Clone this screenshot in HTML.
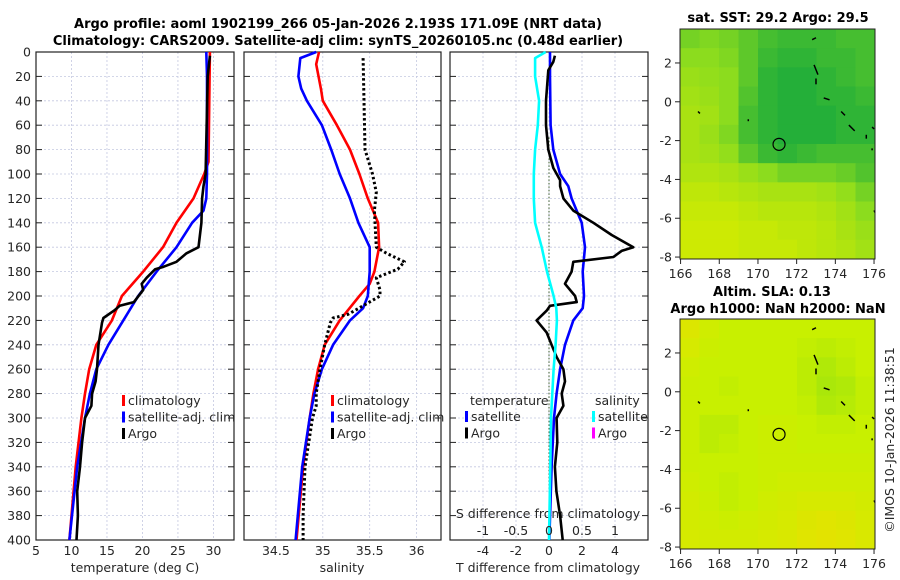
<!DOCTYPE html>
<html><head><meta charset="utf-8">
<style>
html,body{margin:0;padding:0;background:#fff;}
svg{display:block;font-family:"DejaVu Sans","Liberation Sans",sans-serif;}
.t{font-size:12.5px;fill:#262626;}
.b{font-size:13px;font-weight:bold;fill:#000;}
</style></head>
<body>
<svg id="fig" width="900" height="580" viewBox="0 0 900 580">
<text class="b" x="338" y="28" text-anchor="middle">Argo profile: aoml 1902199_266 05-Jan-2026 2.193S 171.09E (NRT data)</text>
<text class="b" x="338" y="45" text-anchor="middle">Climatology: CARS2009. Satellite-adj clim: synTS_20260105.nc (0.48d earlier)</text>
<text class="b" x="778" y="22" text-anchor="middle">sat. SST: 29.2 Argo: 29.5</text>
<text class="b" x="772" y="296" text-anchor="middle">Altim. SLA: 0.13</text>
<text class="b" x="778" y="313" text-anchor="middle">Argo h1000: NaN h2000: NaN</text>
<text class="t" transform="translate(894,440) rotate(-90)" text-anchor="middle">©IMOS 10-Jan-2026 11:38:51</text>
</svg>
<script>
// ---- data ----
const depthTicks=[0,20,40,60,80,100,120,140,160,180,200,220,240,260,280,300,320,340,360,380,400];
const tempTicks=[5,10,15,20,25,30];
const salTicks=[34.5,35,35.5,36];
const tdiffTicks=[-4,-2,0,2,4];
const sdiffTicks=[-1,-0.5,0,0.5,1];
const sdiffTickLabels=["-1","-0.5","0","0.5","1"];
const tClimD=[0,90,100,120,140,160,180,200,220,240,260,280,300,340,400];
const tClimV=[29.5,29.3,28.7,27.2,24.8,22.9,20.1,17.1,15.7,13.5,12.5,11.9,11.4,10.6,9.7];
const tSatD=[0,20,100,120,130,140,160,180,200,220,240,260,280,300,340,400];
const tSatV=[29.0,29.1,29.1,29.0,28.6,27.0,24.8,22.0,19.4,17.3,15.2,13.5,12.6,11.9,10.8,9.7];
const tArgoD=[3,20,100,110,120,140,160,165,172,176,178,185,190,195,205,208,212,218,222,240,260,270,280,290,300,320,340,360,380,400];
const tArgoV=[29.5,29.2,28.9,28.6,28.4,28.3,27.9,26.2,24.8,23.0,21.8,20.6,19.9,20.1,18.8,16.8,16.0,14.5,14.3,13.8,13.6,13.4,12.9,12.8,11.9,11.5,11.2,10.8,10.9,10.7];
const sClimD=[0,10,30,40,60,80,100,120,140,160,180,190,200,220,240,260,280,300,340,400];
const sClimV=[34.96,34.93,34.98,35.0,35.15,35.29,35.39,35.48,35.59,35.60,35.55,35.5,35.39,35.18,35.02,34.95,34.90,34.86,34.79,34.72];
const sSatD=[0,5,20,30,40,60,80,100,120,140,160,180,200,210,220,240,260,280,300,340,400];
const sSatV=[34.93,34.76,34.74,34.77,34.83,34.99,35.09,35.18,35.29,35.38,35.5,35.5,35.48,35.43,35.29,35.11,34.99,34.91,34.86,34.78,34.71];
const sArgoD=[5,80,100,115,130,160,165,172,178,185,195,200,208,215,218,222,240,260,280,290,300,315,340,380,400];
const sArgoV=[35.43,35.45,35.53,35.57,35.55,35.57,35.68,35.87,35.80,35.57,35.61,35.61,35.43,35.27,35.11,35.08,35.02,34.97,34.93,34.93,34.89,34.86,34.81,34.79,34.79];
const dTSatD=[0,20,60,80,100,110,120,140,160,180,200,210,220,240,260,280,300,340,400];
const dTSatV=[0.06,0.06,0.1,0.26,0.67,1.17,1.37,1.98,2.18,2.04,2.12,2.04,1.47,0.97,0.67,0.46,0.3,0.16,0.02];
const dTArgoD=[3,8,15,40,60,80,95,105,110,120,130,140,150,160,163,168,172,180,190,200,205,208,212,220,230,240,250,260,270,280,290,300,320,340,360,380,400];
const dTArgoV=[0.36,0.26,-0.04,-0.18,-0.18,-0.04,0.26,0.67,0.67,0.87,1.47,2.69,3.8,5.11,4.4,3.9,1.47,1.37,0.97,1.58,1.68,0.06,-0.14,-0.75,-0.14,0.16,0.46,0.87,0.97,0.77,0.87,0.46,0.5,0.36,0.45,0.67,0.83];
const dSSatD=[0,5,20,40,60,80,100,120,140,160,180,200,210,220,240,260,280,300,340,400];
const dSSatV=[-0.05,-0.21,-0.21,-0.15,-0.17,-0.21,-0.23,-0.23,-0.21,-0.11,-0.03,0.07,0.11,0.12,0.10,0.07,0.05,0.03,0.02,0.0];
const lonTicks=[166,168,170,172,174,176];
const latTicks=[2,0,-2,-4,-6,-8];
const sstGrid=[
[0.6,0.55,0.6,0.7,0.8,0.85,0.85,0.85,0.8,0.8],
[0.5,0.5,0.55,0.7,0.85,0.9,0.9,0.85,0.85,0.8],
[0.4,0.45,0.5,0.7,0.9,0.95,0.95,0.9,0.85,0.8],
[0.35,0.4,0.5,0.75,0.9,0.95,0.95,0.9,0.9,0.85],
[0.3,0.35,0.5,0.8,0.9,0.95,0.95,0.95,0.9,0.9],
[0.3,0.4,0.55,0.8,0.9,0.95,0.95,0.95,0.9,0.9],
[0.3,0.35,0.45,0.7,0.85,0.9,0.85,0.8,0.8,0.8],
[0.25,0.25,0.3,0.4,0.5,0.6,0.6,0.6,0.65,0.75],
[0.15,0.15,0.2,0.25,0.3,0.3,0.3,0.35,0.45,0.6],
[0.1,0.1,0.1,0.15,0.2,0.2,0.2,0.25,0.35,0.5],
[0.05,0.05,0.05,0.1,0.1,0.15,0.15,0.2,0.3,0.4],
[0.05,0.05,0.05,0.1,0.1,0.1,0.15,0.2,0.25,0.35]];
const slaGrid=[
[0.2,0.4,0.5,0.5,0.5,0.5,0.5,0.5,0.5,0.5],
[0.3,0.45,0.5,0.5,0.5,0.5,0.55,0.6,0.55,0.5],
[0.4,0.5,0.5,0.5,0.5,0.5,0.6,0.7,0.6,0.5],
[0.45,0.5,0.55,0.5,0.5,0.5,0.6,0.75,0.7,0.55],
[0.45,0.5,0.5,0.5,0.5,0.5,0.55,0.7,0.65,0.55],
[0.45,0.6,0.6,0.5,0.45,0.45,0.5,0.55,0.55,0.5],
[0.45,0.6,0.55,0.5,0.45,0.45,0.5,0.5,0.5,0.5],
[0.45,0.5,0.5,0.5,0.45,0.45,0.45,0.45,0.45,0.45],
[0.4,0.5,0.55,0.5,0.45,0.4,0.4,0.4,0.4,0.4],
[0.35,0.45,0.55,0.5,0.4,0.35,0.3,0.3,0.3,0.35],
[0.35,0.4,0.45,0.4,0.35,0.3,0.2,0.15,0.2,0.3],
[0.3,0.35,0.35,0.35,0.3,0.25,0.15,0.1,0.15,0.25]];
const argoLon=171.09, argoLat=-2.193;

const NS='http://www.w3.org/2000/svg';
const svg=document.getElementById('fig');
function mk(tag,attrs,parent){const e=document.createElementNS(NS,tag);for(const k in attrs)e.setAttribute(k,attrs[k]);(parent||svg).appendChild(e);return e;}
const Y0=52,Y1=540;
const yD=d=>Y0+(d/400)*(Y1-Y0);
function panel(x0,x1,dmin,dmax,name){
  const sx=v=>x0+(v-dmin)/(dmax-dmin)*(x1-x0);
  const g=mk('g',{});
  
  
  return {sx,g,x0,x1};
}
function grid(p,xt){
  for(const d of depthTicks){
    const l=mk('line',{x1:p.x0,x2:p.x1,y1:yD(d),y2:yD(d),stroke:'#c4c8e0','stroke-width':0.8,'stroke-dasharray':'2,2'},p.g);
    
    
    const t1=mk('line',{x1:p.x0,x2:p.x0+6,y1:yD(d),y2:yD(d),stroke:'#222','stroke-width':1},p.g);
    
    
    const t2=mk('line',{x1:p.x1-6,x2:p.x1,y1:yD(d),y2:yD(d),stroke:'#222','stroke-width':1},p.g);
    
    
  }
  for(const v of xt){
    const l=mk('line',{x1:p.sx(v),x2:p.sx(v),y1:Y0,y2:Y1,stroke:'#c4c8e0','stroke-width':0.8,'stroke-dasharray':'2,2'},p.g);
    
    
  }
  const r=mk('rect',{x:p.x0,y:Y0,width:p.x1-p.x0,height:Y1-Y0,fill:'none',stroke:'#222','stroke-width':1.2},p.g);
  
  
}
function xlabels(p,vals,labs,y,name){
  vals.forEach((v,i)=>{const t=mk('text',{x:p.sx(v),y:y,'text-anchor':'middle',class:'t'},p.g);t.textContent=labs?labs[i]:String(v);
    
    });
}
function line(p,D,V,color,name,dash,w){
  const pts=D.map((d,i)=>p.sx(V[i]).toFixed(1)+','+yD(d).toFixed(1)).join(' ');
  const a={points:pts,fill:'none',stroke:color,'stroke-width':w||2.6,'stroke-linejoin':'round'};
  if(dash)a['stroke-dasharray']=dash;
  const e=mk('polyline',a,p.g);
  
  
}
function legend(p,x,y,items){
  items.forEach((it,i)=>{
    const r=mk('rect',{x:x,y:y+i*16.5-10,width:3,height:11,fill:it[1]},p.g);
    
    
    const t=mk('text',{x:x+6,y:y+i*16.5,class:'t','font-size':'13px'},p.g);t.textContent=it[0];
    
    
  });
}
function label(p,x,y,s,name,anchor){const t=mk('text',{x:x,y:y,class:'t','text-anchor':anchor||'middle','font-size':'13px'},p.g);t.textContent=s;
  
  }

// Panel 1: temperature
const p1=panel(36,234,5,32.9,'temperature-panel');
grid(p1,tempTicks);
depthTicks.forEach(d=>{const t=mk('text',{x:31,y:yD(d)+4.5,'text-anchor':'end',class:'t'},p1.g);t.textContent=d;
  
  });
line(p1,tClimD,tClimV,'#ff0000','temp-climatology-line');
line(p1,tSatD,tSatV,'#0000ff','temp-satellite-line');
line(p1,tArgoD,tArgoV,'#000000','temp-argo-line');
xlabels(p1,tempTicks,null,555,'temp-tick-label');
label(p1,135,572,'temperature (deg C)','temp-axis-title');
legend(p1,122,405,[['climatology','#ff0000'],['satellite-adj. clim','#0000ff'],['Argo','#000']]);

// Panel 2: salinity
const p2=panel(244,441,34.16,36.26,'salinity-panel');
grid(p2,salTicks);
line(p2,sClimD,sClimV,'#ff0000','sal-climatology-line');
line(p2,sSatD,sSatV,'#0000ff','sal-satellite-line');
line(p2,sArgoD,sArgoV,'#000000','sal-argo-line','2.5,2.5',3);
xlabels(p2,salTicks,null,555,'sal-tick-label');
label(p2,342,572,'salinity','sal-axis-title');
legend(p2,331,405,[['climatology','#ff0000'],['satellite-adj. clim','#0000ff'],['Argo','#000']]);

// Panel 3: differences
const p3=panel(450,648,-6,6,'difference-panel');
grid(p3,tdiffTicks);
const zl=mk('line',{x1:p3.sx(0),x2:p3.sx(0),y1:yD(70),y2:Y1,stroke:'#3a5a2a','stroke-width':1,'stroke-dasharray':'1.5,2'},p3.g);


const p3s=panel(450,648,-1.5,1.5,'salinity-difference-axis');
line(p3s,dSSatD,dSSatV,'#00ffff','sdiff-satellite-line');
line(p3,dTSatD,dTSatV,'#0000ff','tdiff-satellite-line');
line(p3,dTArgoD,dTArgoV,'#000000','tdiff-argo-line');
xlabels(p3,tdiffTicks,null,555,'tdiff-tick-label');
xlabels(p3s,sdiffTicks,sdiffTickLabels,535,'sdiff-tick-label');
label(p3,548,572,'T difference from climatology','tdiff-axis-title');
label(p3,548,518,'S difference from climatology','sdiff-axis-title');
label(p3,470,405,'temperature','legend-title-temperature','start');
label(p3,595,405,'salinity','legend-title-salinity','start');
legend(p3,465,421,[['satellite','#0000ff'],['Argo','#000']]);
legend(p3,592,421,[['satellite','#00ffff'],['Argo','#ff00ff']]);

// Maps
function lerp(a,b,t){return a.map((v,i)=>Math.round(v+(b[i]-v)*t));}
function sstColor(v){return v<0.5?lerp([212,236,0],[140,220,30],v*2):lerp([140,220,30],[24,170,60],(v-0.5)*2);}
function slaColor(v){return v<0.5?lerp([234,224,0],[200,240,0],v*2):lerp([200,240,0],[140,222,20],(v-0.5)*2);}
function map(oy,gridV,colorFn,name){
  const L0=165.97,L1=176.05,T=3.75,B=-8.1;
  const mx=lon=>680+(lon-L0)/(L1-L0)*(875-680);
  const my=lat=>oy+29+(T-lat)/(T-B)*230;
  const g=mk('g',{});
  
  
  const rows=gridV.length,cols=gridV[0].length;
  const cw=(875-680)/cols,ch=230/rows;
  gridV.forEach((row,r)=>row.forEach((v,c)=>{
    const col=colorFn(v);
    const cell=mk('rect',{x:(680+c*cw).toFixed(2),y:(oy+29+r*ch).toFixed(2),width:(cw+0.5).toFixed(2),height:(ch+0.5).toFixed(2),fill:'rgb('+col.join(',')+')'},g);
    
    
  }));
  const isl=[[173.0,3.3,172.8,3.2],[172.9,1.9,173.1,1.4],[173.0,1.2,173.0,0.9],[173.4,0.2,173.7,0.1],[174.3,-0.5,174.5,-0.7],[174.7,-1.2,175.0,-1.5],[175.6,-1.7,175.6,-1.9],[175.9,-1.3,176.0,-1.4],[175.9,-2.4,175.9,-2.5],[169.5,-0.9,169.5,-1.0],[166.9,-0.5,167.0,-0.6],[176.0,-5.6,176.05,-5.7]];
  isl.forEach(s=>{const l=mk('line',{x1:mx(s[0]),y1:my(s[1]),x2:mx(s[2]),y2:my(s[3]),stroke:'#000','stroke-width':1.5},g);
    
    });
  const c=mk('circle',{cx:mx(argoLon),cy:my(argoLat),r:6,fill:'none',stroke:'#000','stroke-width':1.2},g);
  
  
  const fr=mk('rect',{x:680,y:oy+29,width:195,height:230,fill:'none',stroke:'#222','stroke-width':1},g);
  
  
  lonTicks.forEach(v=>{
    const tk=mk('line',{x1:mx(v),x2:mx(v),y1:oy+259,y2:oy+264,stroke:'#222'},g);
    
    
    const t=mk('text',{x:mx(v),y:oy+278,'text-anchor':'middle',class:'t'},g);t.textContent=v;
    
    
  });
  latTicks.forEach(v=>{
    const tk=mk('line',{x1:675,x2:680,y1:my(v),y2:my(v),stroke:'#222'},g);
    
    
    const t=mk('text',{x:672,y:my(v)+4.5,'text-anchor':'end',class:'t'},g);t.textContent=v;
    
    
  });
}
map(0,sstGrid,sstColor,'sst-map');
map(290,slaGrid,slaColor,'sla-map');
</script>
</body></html>
